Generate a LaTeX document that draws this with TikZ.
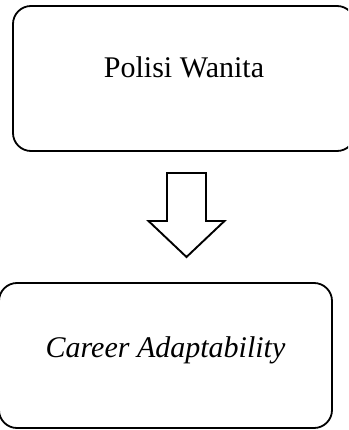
\documentclass[tikz,border=0pt]{standalone}
\usepackage{fontspec}
\setmainfont{Liberation Serif}
\begin{document}
\begin{tikzpicture}[x=1pt,y=-1pt,
  box/.style={draw, line width=1.8pt, rounded corners=18pt,
    minimum height=145pt},
  label/.style={anchor=base, font=\fontsize{30}{36}\selectfont}]
  \useasboundingbox (0,0) rectangle (348,430);
  \clip (0,0) rectangle (348,430);
  \node[box, minimum width=342pt] (polwan) at (184,78.5) {};
  \node[label] (polwantext) at (184,78) {Polisi Wanita};
  \coordinate (arrowtop) at (186.5,173);
  \draw[line width=1.9pt, line join=miter] (arrowtop) ++(-19.5,0) -- ++(39,0)
    -- ++(0,48) -- ++(18.5,0) -- ++(-38,36) -- ++(-38,-36) -- ++(18.5,0) -- cycle;
  \node[box, minimum width=333pt] (career) at (165.5,355.5) {};
  \node[label] (careertext) at (165.5,357) {\itshape Career Adaptability};
\end{tikzpicture}
\end{document}
